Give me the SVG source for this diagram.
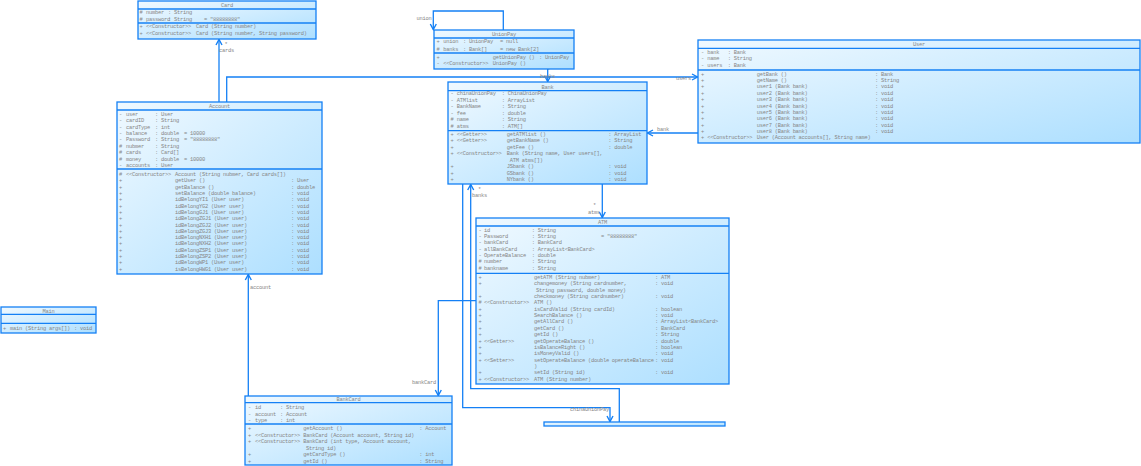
<svg xmlns="http://www.w3.org/2000/svg" width="1141" height="466" viewBox="0 0 1141 466">
<style>
.box{fill:url(#g);stroke:#1480F5;stroke-width:1.3}
.sep{stroke:#1480F5;stroke-width:1.3}
text{font-family:"Liberation Mono",monospace;font-size:5.4px;letter-spacing:-0.24px;fill:#868686}
.ti{text-anchor:middle}
.ln{fill:none;stroke:#1480F5;stroke-width:1.3}
.lb{font-size:5.4px}
</style>
<defs>
<linearGradient id="g" x1="0" y1="0" x2="1" y2="1">
<stop offset="0" stop-color="#F0F9FF"/>
<stop offset="1" stop-color="#ADDFFF"/>
</linearGradient>
<marker id="a" markerWidth="8" markerHeight="8" refX="6.5" refY="4" orient="auto" markerUnits="userSpaceOnUse">
<path d="M1,1 L6.5,4 L1,7" fill="none" stroke="#1480F5" stroke-width="1.4"/>
</marker>
</defs>

<g id="connectors">
<path class="ln" d="M219,102 V39.5" marker-end="url(#a)"/>
<path class="ln" d="M226.7,102 V77 H697.5" marker-end="url(#a)"/>
<path class="ln" d="M503.3,30 V11 H433.3 V29.5" marker-end="url(#a)"/>
<path class="ln" d="M547.7,69 V81.5" marker-end="url(#a)"/>
<path class="ln" d="M698,133 H647.5" marker-end="url(#a)"/>
<path class="ln" d="M462.7,184 V407.7 H610 V421.5" marker-end="url(#a)"/>
<path class="ln" d="M619.3,422 V388.7 H470.7 V184.5" marker-end="url(#a)"/>
<path class="ln" d="M602.3,184 V217.5" marker-end="url(#a)"/>
<path class="ln" d="M476,300.7 H438.3 V395.5" marker-end="url(#a)"/>
<path class="ln" d="M248.3,396 V274.5" marker-end="url(#a)"/>
<text class="lb" x="224.5" y="46">*</text>
<text class="lb" x="219" y="52">cards</text>
<text class="lb" x="676" y="80">users</text>
<text class="lb" x="416.5" y="19.5">union</text>
<text class="lb" x="547" y="72">*</text>
<text class="lb" x="540" y="77.5">banks</text>
<text class="lb" x="657" y="130.5">bank</text>
<text class="lb" x="570" y="411">chinaUnionPay</text>
<text class="lb" x="478" y="190.5">*</text>
<text class="lb" x="472" y="197">banks</text>
<text class="lb" x="593" y="206.5">*</text>
<text class="lb" x="588" y="214">atms</text>
<text class="lb" x="412" y="384">bankCard</text>
<text class="lb" x="250" y="288.5">account</text>
</g>

<g id="Card">
<rect class="box" x="138" y="1" width="178" height="38"/>
<line class="sep" x1="138" y1="9" x2="316" y2="9"/>
<line class="sep" x1="138" y1="23" x2="316" y2="23"/>
<text class="ti" x="227" y="6.8">Card</text>
<text x="139.5" y="13.7">#</text><text x="146" y="13.7">number</text><text x="168" y="13.7">: String</text>
<text x="139.5" y="20.7">#</text><text x="146" y="20.7">password</text><text x="168" y="20.7">: String</text><text x="204" y="20.7">= "88888888"</text>
<text x="139.5" y="27.8">+</text><text x="146" y="27.8">&lt;&lt;Constructor&gt;&gt;</text><text x="196" y="27.8">Card (String number)</text>
<text x="139.5" y="35.3">+</text><text x="146" y="35.3">&lt;&lt;Constructor&gt;&gt;</text><text x="196" y="35.3">Card (String number, String password)</text>
</g>

<g id="Account">
<rect class="box" x="117" y="102" width="205" height="172"/>
<line class="sep" x1="117" y1="110" x2="322" y2="110"/>
<line class="sep" x1="117" y1="169" x2="322" y2="169"/>
<text class="ti" x="219.5" y="108">Account</text>
<text x="119" y="115.7">-</text><text x="126" y="115.7">user</text><text x="155" y="115.7">: User</text>
<text x="119" y="122.1">-</text><text x="126" y="122.1">cardID</text><text x="155" y="122.1">: String</text>
<text x="119" y="128.5">-</text><text x="126" y="128.5">cardType</text><text x="155" y="128.5">: int</text>
<text x="119" y="134.9">-</text><text x="126" y="134.9">balance</text><text x="155" y="134.9">: double</text><text x="184" y="134.9">= 10000</text>
<text x="119" y="141.3">-</text><text x="126" y="141.3">Password</text><text x="155" y="141.3">: String</text><text x="184" y="141.3">= "88888888"</text>
<text x="119" y="147.7">#</text><text x="126" y="147.7">nubmer</text><text x="155" y="147.7">: String</text>
<text x="119" y="154.1">#</text><text x="126" y="154.1">cards</text><text x="155" y="154.1">: Card[]</text>
<text x="119" y="160.5">#</text><text x="126" y="160.5">money</text><text x="155" y="160.5">: double</text><text x="184" y="160.5">= 10000</text>
<text x="119" y="166.9">-</text><text x="126" y="166.9">accounts</text><text x="155" y="166.9">: User</text>
<text x="119" y="176">#</text><text x="126" y="176">&lt;&lt;Constructor&gt;&gt;</text><text x="175" y="176">Account (String nubmer, Card cards[])</text>
<text x="119" y="182.3">+</text><text x="175" y="182.3">getUser ()</text><text x="291" y="182.3">: User</text>
<text x="119" y="188.6">+</text><text x="175" y="188.6">getBalance ()</text><text x="291" y="188.6">: double</text>
<text x="119" y="194.9">+</text><text x="175" y="194.9">setBalance (double balance)</text><text x="291" y="194.9">: void</text>
<text x="119" y="201.2">+</text><text x="175" y="201.2">idBelongYI1 (User user)</text><text x="291" y="201.2">: void</text>
<text x="119" y="207.6">+</text><text x="175" y="207.6">idBelongYG2 (User user)</text><text x="291" y="207.6">: void</text>
<text x="119" y="213.9">+</text><text x="175" y="213.9">idBelongGJ1 (User user)</text><text x="291" y="213.9">: void</text>
<text x="119" y="220.2">+</text><text x="175" y="220.2">idBelongZGJ1 (User user)</text><text x="291" y="220.2">: void</text>
<text x="119" y="226.5">+</text><text x="175" y="226.5">idBelongZGJ2 (User user)</text><text x="291" y="226.5">: void</text>
<text x="119" y="232.8">+</text><text x="175" y="232.8">idBelongZGJ3 (User user)</text><text x="291" y="232.8">: void</text>
<text x="119" y="239.1">+</text><text x="175" y="239.1">idBelongNXH1 (User user)</text><text x="291" y="239.1">: void</text>
<text x="119" y="245.4">+</text><text x="175" y="245.4">idBelongNXH2 (User user)</text><text x="291" y="245.4">: void</text>
<text x="119" y="251.7">+</text><text x="175" y="251.7">idBelongZSP1 (User user)</text><text x="291" y="251.7">: void</text>
<text x="119" y="258">+</text><text x="175" y="258">idBelongZSP2 (User user)</text><text x="291" y="258">: void</text>
<text x="119" y="264.3">+</text><text x="175" y="264.3">idBelongWP1 (User user)</text><text x="291" y="264.3">: void</text>
<text x="119" y="270.6">+</text><text x="175" y="270.6">isBelongHWG1 (User user)</text><text x="291" y="270.6">: void</text>
</g>

<g id="UnionPay">
<rect class="box" x="434" y="30" width="140" height="39"/>
<line class="sep" x1="434" y1="38" x2="574" y2="38"/>
<line class="sep" x1="434" y1="53" x2="574" y2="53"/>
<text class="ti" x="504" y="36">UnionPay</text>
<text x="436.5" y="43.4">+</text><text x="443.3" y="43.4">union</text><text x="463" y="43.4">: UnionPay</text><text x="500" y="43.4">= null</text>
<text x="436.5" y="51">#</text><text x="443.3" y="51">banks</text><text x="463" y="51">: Bank[]</text><text x="500" y="51">= new Bank[2]</text>
<text x="436.5" y="58.7">+</text><text x="492.7" y="58.7">getUnionPay ()</text><text x="539" y="58.7">: UnionPay</text>
<text x="436.5" y="65.4">-</text><text x="443.3" y="65.4">&lt;&lt;Constructor&gt;&gt;</text><text x="492.7" y="65.4">UnionPay ()</text>
</g>

<g id="User">
<rect class="box" x="698" y="40" width="442" height="103"/>
<line class="sep" x1="698" y1="48.3" x2="1140" y2="48.3"/>
<line class="sep" x1="698" y1="70" x2="1140" y2="70"/>
<text class="ti" x="919" y="46">User</text>
<text x="701" y="53.5">-</text><text x="707.3" y="53.5">bank</text><text x="727.7" y="53.5">: Bank</text>
<text x="701" y="60">-</text><text x="707.3" y="60">name</text><text x="727.7" y="60">: String</text>
<text x="701" y="66.5">-</text><text x="707.3" y="66.5">users</text><text x="727.7" y="66.5">: Bank</text>
<text x="701" y="75.7">+</text><text x="756.7" y="75.7">getBank ()</text><text x="875" y="75.7">: Bank</text>
<text x="701" y="82.1">+</text><text x="756.7" y="82.1">getName ()</text><text x="875" y="82.1">: String</text>
<text x="701" y="88.4">+</text><text x="756.7" y="88.4">user1 (Bank bank)</text><text x="875" y="88.4">: void</text>
<text x="701" y="94.8">+</text><text x="756.7" y="94.8">user2 (Bank bank)</text><text x="875" y="94.8">: void</text>
<text x="701" y="101.2">+</text><text x="756.7" y="101.2">user3 (Bank bank)</text><text x="875" y="101.2">: void</text>
<text x="701" y="107.6">+</text><text x="756.7" y="107.6">user4 (Bank bank)</text><text x="875" y="107.6">: void</text>
<text x="701" y="113.9">+</text><text x="756.7" y="113.9">user5 (Bank bank)</text><text x="875" y="113.9">: void</text>
<text x="701" y="120.3">+</text><text x="756.7" y="120.3">user6 (Bank bank)</text><text x="875" y="120.3">: void</text>
<text x="701" y="126.7">+</text><text x="756.7" y="126.7">user7 (Bank bank)</text><text x="875" y="126.7">: void</text>
<text x="701" y="133">+</text><text x="756.7" y="133">user8 (Bank bank)</text><text x="875" y="133">: void</text>
<text x="701" y="139.4">+</text><text x="707.3" y="139.4">&lt;&lt;Constructor&gt;&gt;</text><text x="756.7" y="139.4">User (Account accounts[], String name)</text>
</g>

<g id="Bank">
<rect class="box" x="448" y="82" width="199" height="102"/>
<line class="sep" x1="448" y1="90.7" x2="647" y2="90.7"/>
<line class="sep" x1="448" y1="130.7" x2="647" y2="130.7"/>
<text class="ti" x="547.5" y="88.5">Bank</text>
<text x="450.5" y="95.4">-</text><text x="456.7" y="95.4">chinaUnionPay</text><text x="501.7" y="95.4">: ChinaUnionPay</text>
<text x="450.5" y="101.9">-</text><text x="456.7" y="101.9">ATMlist</text><text x="501.7" y="101.9">: ArrayList</text>
<text x="450.5" y="108.3">-</text><text x="456.7" y="108.3">BankName</text><text x="501.7" y="108.3">: String</text>
<text x="450.5" y="114.8">-</text><text x="456.7" y="114.8">fee</text><text x="501.7" y="114.8">: double</text>
<text x="450.5" y="121.2">#</text><text x="456.7" y="121.2">name</text><text x="501.7" y="121.2">: String</text>
<text x="450.5" y="127.7">#</text><text x="456.7" y="127.7">atms</text><text x="501.7" y="127.7">: ATM[]</text>
<text x="450.5" y="135.7">+</text><text x="456.7" y="135.7">&lt;&lt;Getter&gt;&gt;</text><text x="506.7" y="135.7">getATMlist ()</text><text x="608.3" y="135.7">: ArrayList</text>
<text x="450.5" y="142.2">+</text><text x="456.7" y="142.2">&lt;&lt;Getter&gt;&gt;</text><text x="506.7" y="142.2">getBankName ()</text><text x="608.3" y="142.2">: String</text>
<text x="450.5" y="148.6">+</text><text x="506.7" y="148.6">getFee ()</text><text x="608.3" y="148.6">: double</text>
<text x="450.5" y="155.1">+</text><text x="456.7" y="155.1">&lt;&lt;Constructor&gt;&gt;</text><text x="506.7" y="155.1">Bank (String name, User users[],</text>
<text x="509.7" y="161.6">ATM atms[])</text>
<text x="450.5" y="168">+</text><text x="506.7" y="168">JSbank ()</text><text x="608.3" y="168">: void</text>
<text x="450.5" y="174.5">+</text><text x="506.7" y="174.5">GSbank ()</text><text x="608.3" y="174.5">: void</text>
<text x="450.5" y="181">+</text><text x="506.7" y="181">NYbank ()</text><text x="608.3" y="181">: void</text>
</g>

<g id="ATM">
<rect class="box" x="476" y="218" width="253" height="166"/>
<line class="sep" x1="476" y1="226" x2="729" y2="226"/>
<line class="sep" x1="476" y1="273.3" x2="729" y2="273.3"/>
<text class="ti" x="602.5" y="224">ATM</text>
<text x="478.5" y="231.7">-</text><text x="484" y="231.7">id</text><text x="531.7" y="231.7">: String</text>
<text x="478.5" y="238">-</text><text x="484" y="238">Password</text><text x="531.7" y="238">: String</text><text x="601" y="238">= "88888888"</text>
<text x="478.5" y="244.4">-</text><text x="484" y="244.4">bankCard</text><text x="531.7" y="244.4">: BankCard</text>
<text x="478.5" y="250.7">-</text><text x="484" y="250.7">allBankCard</text><text x="531.7" y="250.7">: ArrayList&lt;BankCard&gt;</text>
<text x="478.5" y="257.1">-</text><text x="484" y="257.1">OperateBalance</text><text x="531.7" y="257.1">: double</text>
<text x="478.5" y="263.4">#</text><text x="484" y="263.4">number</text><text x="531.7" y="263.4">: String</text>
<text x="478.5" y="269.7">#</text><text x="484" y="269.7">bankname</text><text x="531.7" y="269.7">: String</text>
<text x="478.5" y="278.7">+</text><text x="534" y="278.7">getATM (String nubmer)</text><text x="655" y="278.7">: ATM</text>
<text x="478.5" y="285.1">+</text><text x="534" y="285.1">changemoney (String cardnumber,</text><text x="655" y="285.1">: void</text>
<text x="536" y="291.5">String password, double money)</text>
<text x="478.5" y="297.8">+</text><text x="534" y="297.8">checkmoney (String cardnumber)</text><text x="655" y="297.8">: void</text>
<text x="478.5" y="304.2">#</text><text x="484" y="304.2">&lt;&lt;Constructor&gt;&gt;</text><text x="534" y="304.2">ATM ()</text>
<text x="478.5" y="310.6">+</text><text x="534" y="310.6">isCardValid (String cardId)</text><text x="655" y="310.6">: boolean</text>
<text x="478.5" y="317">+</text><text x="534" y="317">SearchBalance ()</text><text x="655" y="317">: void</text>
<text x="478.5" y="323.3">+</text><text x="534" y="323.3">getAllCard ()</text><text x="655" y="323.3">: ArrayList&lt;BankCard&gt;</text>
<text x="478.5" y="329.7">+</text><text x="534" y="329.7">getCard ()</text><text x="655" y="329.7">: BankCard</text>
<text x="478.5" y="336.1">+</text><text x="534" y="336.1">getId ()</text><text x="655" y="336.1">: String</text>
<text x="478.5" y="342.5">+</text><text x="484" y="342.5">&lt;&lt;Getter&gt;&gt;</text><text x="534" y="342.5">getOperateBalance ()</text><text x="655" y="342.5">: double</text>
<text x="478.5" y="348.8">+</text><text x="534" y="348.8">isBalanceRight ()</text><text x="655" y="348.8">: boolean</text>
<text x="478.5" y="355.2">+</text><text x="534" y="355.2">isMoneyValid ()</text><text x="655" y="355.2">: void</text>
<text x="478.5" y="361.6">+</text><text x="484" y="361.6">&lt;&lt;Setter&gt;&gt;</text><text x="534" y="361.6">setOperateBalance (double operateBalance</text><text x="655" y="361.6">: void</text>
<text x="534" y="368">)</text>
<text x="478.5" y="374.3">+</text><text x="534" y="374.3">setId (String id)</text><text x="655" y="374.3">: void</text>
<text x="478.5" y="380.7">+</text><text x="484" y="380.7">&lt;&lt;Constructor&gt;&gt;</text><text x="534" y="380.7">ATM (String number)</text>
</g>

<g id="BankCard">
<rect class="box" x="245" y="396" width="207" height="69"/>
<line class="sep" x1="245" y1="402.7" x2="452" y2="402.7"/>
<line class="sep" x1="245" y1="424" x2="452" y2="424"/>
<text class="ti" x="348.5" y="401">BankCard</text>
<text x="248" y="409">-</text><text x="255" y="409">id</text><text x="280" y="409">: String</text>
<text x="248" y="415.5">-</text><text x="255" y="415.5">account</text><text x="280" y="415.5">: Account</text>
<text x="248" y="422">-</text><text x="255" y="422">type</text><text x="280" y="422">: int</text>
<text x="248" y="430.4">+</text><text x="303.3" y="430.4">getAccount ()</text><text x="419.3" y="430.4">: Account</text>
<text x="248" y="436.8">+</text><text x="255" y="436.8">&lt;&lt;Constructor&gt;&gt;</text><text x="303.3" y="436.8">BankCard (Account account, String id)</text>
<text x="248" y="443.3">+</text><text x="255" y="443.3">&lt;&lt;Constructor&gt;&gt;</text><text x="303.3" y="443.3">BankCard (int type, Account account,</text>
<text x="306" y="449.7">String id)</text>
<text x="248" y="456.2">+</text><text x="303.3" y="456.2">getCardType ()</text><text x="419.3" y="456.2">: int</text>
<text x="248" y="462.6">+</text><text x="303.3" y="462.6">getId ()</text><text x="419.3" y="462.6">: String</text>
</g>

<g id="Main">
<rect class="box" x="1" y="307" width="95" height="26"/>
<line class="sep" x1="1" y1="314.3" x2="96" y2="314.3"/>
<line class="sep" x1="1" y1="323.3" x2="96" y2="323.3"/>
<text class="ti" x="48.5" y="312.6">Main</text>
<text x="3" y="330">+</text><text x="10" y="330">main (String args[])</text><text x="74" y="330">: void</text>
</g>

<g id="ChinaUnionPay">
<rect class="box" x="544" y="422" width="181" height="4"/>
</g>
</svg>
